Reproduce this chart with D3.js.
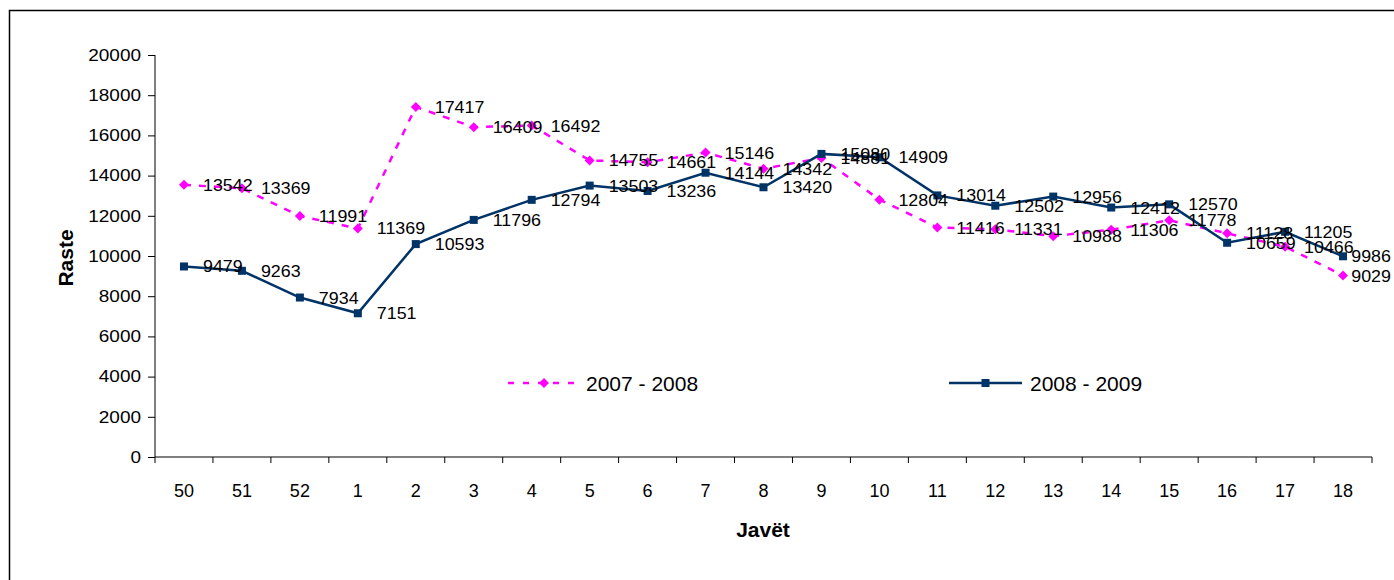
<!DOCTYPE html>
<html>
<head>
<meta charset="utf-8">
<script src="https://cdn.jsdelivr.net/npm/d3@7"></script>
<style>
  body { margin: 0; background: #fff; }
  svg { display: block; font-family: "Liberation Sans", Arial, sans-serif; }
</style>
</head>
<body>
<svg id="chart"></svg>
<script>
const weeks = ['50', '51', '52', '1', '2', '3', '4', '5', '6', '7', '8', '9', '10', '11', '12', '13', '14', '15', '16', '17', '18'];
const cases0708 = [13542, 13369, 11991, 11369, 17417, 16409, 16492, 14755, 14661, 15146, 14342, 14881, 12804, 11416, 11331, 10988, 11306, 11778, 11128, 10466, 9029];
const cases0809 = [9479, 9263, 7934, 7151, 10593, 11796, 12794, 13503, 13236, 14144, 13420, 15080, 14909, 13014, 12502, 12956, 12412, 12570, 10659, 11205, 9986];
const yTicks = [0, 2000, 4000, 6000, 8000, 10000, 12000, 14000, 16000, 18000, 20000];

const width = 1394;
const height = 580;
const margin = { left: 155, right: 22, top: 55, bottom: 123 };

const pink = '#ff00ff';
const navy = '#003366';

const svg = d3.select('#chart').attr('width', width).attr('height', height);

// outer frame
svg.append('rect')
  .attr('x', 9.5).attr('y', 10.5)
  .attr('width', width).attr('height', height)
  .attr('fill', 'none').attr('stroke', '#000').attr('stroke-width', 1.5);

const x = d3.scaleBand()
  .domain(weeks)
  .range([margin.left, width - margin.right]);

const y = d3.scaleLinear()
  .domain([0, 20000])
  .range([height - margin.bottom, margin.top]);

const cx = (d) => x(d) + x.bandwidth() / 2;

// y axis (labels a bit wider than normal, like the original)
const sx = 1.15;
const yAxis = svg.append('g')
  .attr('transform', 'translate(' + margin.left + ',0)')
  .call(d3.axisLeft(y).tickValues(yTicks).tickSize(7).tickPadding(7).tickFormat(d3.format('d')));
yAxis.selectAll('text')
  .style('font-size', '16.5px').attr('fill', '#000')
  .attr('x', -14 / sx)
  .attr('transform', 'scale(' + sx + ',1)');
yAxis.selectAll('line, path').attr('stroke', '#000');
yAxis.select('.domain').attr('d', 'M0,' + y(20000) + 'V' + y(0));

// x axis: ticks at category boundaries
const xAxis = svg.append('g')
  .attr('transform', 'translate(0,' + y(0) + ')')
  .call(d3.axisBottom(x).tickSize(0).tickPadding(0));
xAxis.selectAll('text')
  .style('font-size', '18px').attr('fill', '#000')
  .attr('dy', null).attr('y', 40);
xAxis.select('.domain').attr('stroke', '#000').attr('d', 'M' + margin.left + ',0H' + (width - margin.right));
xAxis.selectAll('.bound')
  .data(weeks.concat(['end']))
  .enter()
  .append('line')
  .attr('x1', (d, i) => margin.left + i * x.step())
  .attr('x2', (d, i) => margin.left + i * x.step())
  .attr('y1', 0).attr('y2', 6)
  .attr('stroke', '#000');

// axis titles
svg.append('text')
  .attr('x', 763).attr('y', 537)
  .attr('text-anchor', 'middle')
  .style('font-size', '21px').style('font-weight', 'bold')
  .text('Javët');

svg.append('text')
  .attr('transform', 'translate(73,258) rotate(-90)')
  .attr('text-anchor', 'middle')
  .style('font-size', '21px').style('font-weight', 'bold')
  .text('Raste');

const line = d3.line()
  .x((d, i) => cx(weeks[i]))
  .y((d) => y(d));

// 2007 - 2008
svg.append('path')
  .datum(cases0708)
  .attr('d', line)
  .attr('fill', 'none')
  .attr('stroke', pink)
  .attr('stroke-width', 2.5)
  .attr('stroke-dasharray', '7,8');

svg.selectAll('.m0708')
  .data(cases0708)
  .enter()
  .append('path')
  .attr('d', d3.symbol(d3.symbolSquare, 50))
  .attr('transform', (d, i) => 'translate(' + cx(weeks[i]) + ',' + y(d) + ') rotate(45)')
  .attr('fill', pink);

// 2008 - 2009
svg.append('path')
  .datum(cases0809)
  .attr('d', line)
  .attr('fill', 'none')
  .attr('stroke', navy)
  .attr('stroke-width', 2.5);

svg.selectAll('.m0809')
  .data(cases0809)
  .enter()
  .append('rect')
  .attr('x', (d, i) => cx(weeks[i]) - 4)
  .attr('y', (d) => y(d) - 4)
  .attr('width', 8).attr('height', 8)
  .attr('fill', navy);

// data labels, right of each point, pushed back inside at the right edge
const lsx = 1.05;
[cases0708, cases0809].forEach((series) => {
  svg.selectAll(null)
    .data(series)
    .enter()
    .append('text')
    .style('font-size', '17px')
    .attr('fill', '#000')
    .text((d) => d)
    .each(function (d, i) {
      const w = this.getComputedTextLength() * lsx;
      const px = Math.min(cx(weeks[i]) + 19, width - 3 - w);
      d3.select(this)
        .attr('x', px / lsx)
        .attr('y', y(d) + 6)
        .attr('transform', 'scale(' + lsx + ',1)');
    });
});

// legend
const legend = [
  { name: '2007 - 2008', color: pink, dash: '6,9', x: 508, len: 70 },
  { name: '2008 - 2009', color: navy, dash: null, x: 949, len: 73 }
];
legend.forEach((l) => {
  const g = svg.append('g').attr('transform', 'translate(' + l.x + ',383)');
  g.append('line')
    .attr('x1', 0).attr('x2', l.len)
    .attr('stroke', l.color).attr('stroke-width', 2.5)
    .attr('stroke-dasharray', l.dash);
  if (l.dash) {
    g.append('path').attr('d', d3.symbol(d3.symbolSquare, 50)).attr('transform', 'translate(36,0) rotate(45)').attr('fill', l.color);
  } else {
    g.append('rect').attr('x', l.len / 2 - 4).attr('y', -4).attr('width', 8).attr('height', 8).attr('fill', l.color);
  }
  g.append('text')
    .attr('x', l.len + 8).attr('y', 8)
    .style('font-size', '21px')
    .text(l.name);
});
</script>
</body>
</html>
